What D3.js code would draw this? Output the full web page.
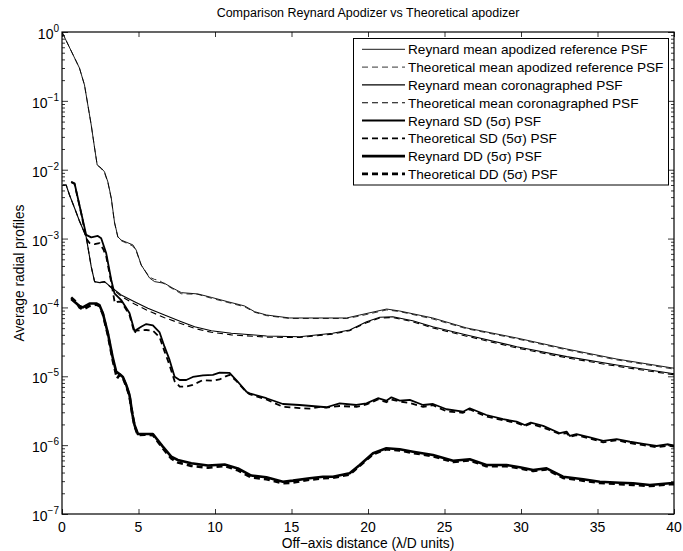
<!DOCTYPE html>
<html><head><meta charset="utf-8">
<script src="https://cdn.jsdelivr.net/npm/d3@7"></script>
<style>
html,body{margin:0;padding:0;background:#fff;}
text{font-family:"Liberation Sans",Arial,Helvetica,sans-serif;fill:#000;}
</style></head>
<body><svg id="c" width="683" height="551"></svg>
<script>
// ---------- data ----------
const title = "Comparison Reynard Apodizer vs Theoretical apodizer";
const xLabel = "Off\u2212axis distance (\u03BB/D units)";
const yLabel = "Average radial profiles";
const xTicks = [0,5,10,15,20,25,30,35,40];
const yExponents = [0,-1,-2,-3,-4,-5,-6,-7];
const legendLabels = [
  "Reynard mean apodized reference PSF",
  "Theoretical mean apodized reference PSF",
  "Reynard mean coronagraphed PSF",
  "Theoretical mean coronagraphed PSF",
  "Reynard SD (5\u03C3) PSF",
  "Theoretical SD (5\u03C3) PSF",
  "Reynard DD (5\u03C3) PSF",
  "Theoretical DD (5\u03C3) PSF"
];

// Reynard mean apodized reference PSF
const reyRefX = [0,1.14,1.47,1.69,1.91,2.13,2.30,2.56,2.78,3.0,3.22,3.43,3.65,3.87,4.63,4.85,5.18,5.72,6.05,6.70,7.25,7.80,8.88,9.76,10.84,11.94,12.59,13.37,14.88,18.61,19.46,21.22,22.07,24.23,26.45,29.72,32.99,36.26,40];
const reyRefY = [1,0.30,0.17,0.087,0.0446,0.0207,0.0117,0.0106,0.0093,0.00664,0.00388,0.00174,0.00106,0.00095,0.00081,0.00068,0.000413,0.000268,0.000237,0.000224,0.000190,0.000164,0.000157,0.000140,0.000121,0.000105,8.67e-5,7.76e-5,7.03e-5,7.03e-5,7.76e-5,9.48e-5,8.87e-5,7.03e-5,5.03e-5,3.60e-5,2.49e-5,1.78e-5,1.31e-5];
// Theoretical mean apodized reference PSF
const theoRefX = [0,1.14,1.47,1.69,1.91,2.13,2.30,2.56,2.78,3.0,3.22,3.43,3.65,3.87,4.63,4.85,5.18,5.72,6.05,6.30,6.70,7.25,7.80,8.88,9.76,10.84,11.94,12.59,13.37,14.88,18.61,19.46,21.22,22.07,24.23,26.45,29.72,32.99,36.26,40];
const theoRefY = [1,0.30,0.17,0.087,0.0446,0.0207,0.0117,0.0104,0.0090,0.0065,0.0038,0.0017,0.00105,0.00093,0.00078,0.00066,0.00041,0.000275,0.000255,0.00025,0.00022,0.000185,0.000158,0.000155,0.000136,0.000118,0.000102,8.5e-5,7.6e-5,6.9e-5,6.9e-5,7.5e-5,9.2e-5,8.7e-5,6.8e-5,4.9e-5,3.5e-5,2.42e-5,1.73e-5,1.27e-5];
// Reynard mean coronagraphed PSF
const reyCorX = [0.05,0.27,0.49,0.82,1.14,1.58,1.91,2.13,2.45,2.78,3.22,3.87,4.74,5.61,6.70,7.80,8.67,9.76,11.07,12.59,13.37,15.53,17.69,18.80,19.91,20.77,21.62,22.92,24.23,26.45,29.72,32.99,36.26,40];
const reyCorY = [6.0e-3,6.0e-3,4.3e-3,2.78e-3,1.8e-3,1.06e-3,3.91e-4,2.37e-4,2.29e-4,2.37e-4,1.96e-4,1.52e-4,1.21e-4,9.72e-5,7.76e-5,6.21e-5,5.25e-5,4.59e-5,4.21e-5,3.98e-5,3.85e-5,3.76e-5,4.21e-5,4.70e-5,6.21e-5,7.19e-5,7.34e-5,6.42e-5,5.25e-5,3.98e-5,2.69e-5,1.93e-5,1.46e-5,1.09e-5];
// Theoretical mean coronagraphed PSF
const theoCorX = [0.05,0.27,0.49,0.82,1.14,1.58,1.91,2.13,2.45,2.78,3.22,3.87,4.74,5.61,6.70,7.80,8.67,9.76,11.07,12.59,13.37,15.53,17.69,18.80,19.91,20.77,21.62,22.92,24.23,26.45,29.72,32.99,36.26,40];
const theoCorY = [6.0e-3,6.0e-3,4.3e-3,2.78e-3,1.8e-3,1.06e-3,3.9e-4,2.37e-4,2.29e-4,2.35e-4,1.93e-4,1.45e-4,1.12e-4,9.0e-5,7.1e-5,5.8e-5,4.95e-5,4.35e-5,4.0e-5,3.8e-5,3.7e-5,3.65e-5,4.1e-5,4.6e-5,6.0e-5,7.0e-5,7.15e-5,6.2e-5,5.05e-5,3.82e-5,2.58e-5,1.85e-5,1.40e-5,1.05e-5];
// Reynard SD (5 sigma) PSF
const reySDX = [0.60,0.82,1.26,1.58,1.91,2.34,2.56,2.89,3.22,3.43,3.87,4.41,4.74,5.20,5.51,5.94,6.38,6.70,7.03,7.36,7.69,8.12,8.55,9.21,9.86,10.30,10.95,11.39,12.05,12.26,13.36,14.44,15.53,17.28,18.15,19.24,19.90,20.65,21.20,21.53,22.07,22.73,23.60,24.25,25.13,26.21,26.65,27.74,28.83,29.71,30.25,30.64,31.45,32.54,32.98,33.19,33.63,34.50,35.37,36.25,37.12,37.99,38.86,39.62,40];
const reySDY = [6.70e-3,6.35e-3,2.33e-3,1.13e-3,1.04e-3,1.09e-3,1.01e-3,6.11e-4,2.50e-4,1.60e-4,1.28e-4,8.30e-5,4.55e-5,5.29e-5,5.74e-5,5.47e-5,4.33e-5,2.69e-5,1.73e-5,9.87e-6,8.83e-6,8.83e-6,9.77e-6,1.03e-5,1.05e-5,1.13e-5,1.12e-5,8.83e-6,5.97e-6,5.66e-6,4.80e-6,3.96e-6,3.83e-6,3.55e-6,4.05e-6,3.83e-6,4.05e-6,4.80e-6,4.43e-6,4.95e-6,4.43e-6,4.53e-6,3.83e-6,3.96e-6,3.32e-6,3.06e-6,3.43e-6,2.74e-6,2.38e-6,2.19e-6,1.96e-6,2.12e-6,1.90e-6,1.49e-6,1.57e-6,1.36e-6,1.45e-6,1.30e-6,1.15e-6,1.22e-6,1.12e-6,1.04e-6,9.72e-7,1.03e-6,9.9e-7];
// Theoretical SD (5 sigma) PSF
const theoSDX = [0.60,0.82,1.26,1.58,1.80,2.13,2.45,2.70,2.89,3.22,3.45,3.60,3.87,4.41,4.74,4.85,5.50,5.94,6.38,6.70,7.03,7.36,7.69,8.12,8.55,9.21,9.86,10.30,10.70,10.95,11.39,12.05,12.26,13.36,14.44,15.53,16.20,16.90,17.28,18.15,19.24,19.90,20.65,21.20,21.53,22.07,22.73,23.60,24.25,25.13,26.21,26.65,27.74,28.83,29.71,30.25,30.64,31.45,32.54,32.98,33.19,33.63,34.50,35.37,36.25,37.12,37.99,38.86,39.62,40];
const theoSDY = [6.6e-3,6.2e-3,2.3e-3,1.0e-3,8.6e-4,8.3e-4,8.6e-4,7.0e-4,5.5e-4,2.3e-4,1.16e-4,1.2e-4,1.22e-4,7.8e-5,4.2e-5,4.6e-5,4.7e-5,4.6e-5,3.7e-5,2.3e-5,1.45e-5,8.5e-6,7.1e-6,7.1e-6,7.5e-6,8.8e-6,8.6e-6,9.0e-6,1.0e-5,1.05e-5,8.6e-6,5.9e-6,5.5e-6,4.6e-6,3.6e-6,3.45e-6,3.4e-6,3.6e-6,3.5e-6,3.7e-6,3.6e-6,3.9e-6,4.6e-6,4.2e-6,4.6e-6,4.3e-6,4.1e-6,3.6e-6,3.8e-6,3.1e-6,2.95e-6,3.3e-6,2.6e-6,2.3e-6,2.1e-6,1.9e-6,2.05e-6,1.8e-6,1.45e-6,1.5e-6,1.32e-6,1.4e-6,1.25e-6,1.1e-6,1.18e-6,1.07e-6,1.0e-6,9.3e-7,9.8e-7,9.5e-7];
// Reynard DD (5 sigma) PSF
const reyDDX = [0.60,0.93,1.14,1.36,1.80,2.24,2.45,2.67,3.00,3.32,3.54,3.76,3.98,4.20,4.41,4.61,4.74,4.96,5.40,5.94,6.59,7.14,7.57,8.45,9.54,10.63,11.50,12.37,13.36,14.44,15.09,16.19,17.06,17.71,18.80,19.46,20.33,21.20,22.07,22.94,24.25,25.56,26.65,27.74,29.05,29.92,30.79,31.67,32.75,34.06,35.15,36.46,37.33,38.42,39.73,40];
const reyDDY = [1.33e-4,1.15e-4,1.05e-4,1.0e-4,1.14e-4,1.14e-4,1.08e-4,8.22e-5,4.21e-5,1.85e-5,1.17e-5,1.08e-5,9.77e-6,7.48e-6,5.35e-6,2.74e-6,1.96e-6,1.45e-6,1.45e-6,1.45e-6,9.50e-7,6.80e-7,6.08e-7,5.45e-7,5.06e-7,5.24e-7,4.58e-7,3.62e-7,3.41e-7,2.94e-7,3.05e-7,3.30e-7,3.48e-7,3.48e-7,3.90e-7,5.15e-7,7.62e-7,9.0e-7,8.71e-7,8.04e-7,7.19e-7,5.94e-7,6.23e-7,5.15e-7,5.15e-7,4.77e-7,4.36e-7,4.61e-7,3.48e-7,3.19e-7,2.94e-7,2.85e-7,2.79e-7,2.64e-7,2.79e-7,2.8e-7];
// Theoretical DD (5 sigma) PSF
const theoDDX = [0.60,0.93,1.14,1.36,1.80,2.24,2.45,2.67,3.00,3.32,3.54,3.60,3.76,3.98,4.20,4.41,4.61,4.74,4.96,5.40,5.94,6.59,7.14,7.57,8.45,9.54,10.63,11.50,12.37,13.36,14.44,15.09,16.19,17.06,17.71,18.80,19.46,20.33,21.20,22.07,22.94,24.25,25.56,26.65,27.74,29.05,29.92,30.79,31.67,32.75,34.06,35.15,36.46,37.33,38.42,39.73,40];
const theoDDY = [1.4e-4,1.2e-4,1.0e-4,9.3e-5,1.05e-4,1.1e-4,1.05e-4,8.0e-5,4.0e-5,1.7e-5,1.05e-5,9.3e-6,1.05e-5,9.5e-6,7.2e-6,5.2e-6,2.7e-6,1.9e-6,1.4e-6,1.42e-6,1.4e-6,9.0e-7,6.4e-7,5.6e-7,5.0e-7,4.7e-7,5.0e-7,4.3e-7,3.4e-7,3.2e-7,2.8e-7,2.85e-7,3.15e-7,3.3e-7,3.35e-7,3.75e-7,5.0e-7,7.4e-7,8.7e-7,8.4e-7,7.7e-7,6.9e-7,5.7e-7,6.0e-7,4.95e-7,4.95e-7,4.6e-7,4.2e-7,4.45e-7,3.35e-7,3.05e-7,2.82e-7,2.72e-7,2.65e-7,2.55e-7,2.7e-7,2.7e-7];

// ---------- chart ----------
const L = 62, R = 674, T = 32, B = 514;
const svg = d3.select("#c");
const x = d3.scaleLinear().domain([0,40]).range([L,R]);
const y = d3.scaleLog().domain([1e-7,1]).range([B,T]);

const series = [
  {xs:reyRefX, ys:reyRefY, w:0.9, dash:null},
  {xs:theoRefX, ys:theoRefY, w:0.8, dash:"6,4"},
  {xs:reyCorX, ys:reyCorY, w:1.1, dash:null},
  {xs:theoCorX, ys:theoCorY, w:1.1, dash:"6,4"},
  {xs:reySDX, ys:reySDY, w:1.8, dash:null},
  {xs:theoSDX, ys:theoSDY, w:1.8, dash:"6,4"},
  {xs:reyDDX, ys:reyDDY, w:2.6, dash:null},
  {xs:theoDDX, ys:theoDDY, w:2.6, dash:"6,4"}
];

svg.append("clipPath").attr("id","clip").append("rect")
  .attr("x",L).attr("y",T).attr("width",R-L).attr("height",B-T);

const line = d3.line().x(d=>x(d[0])).y(d=>y(d[1]));
const g = svg.append("g").attr("clip-path","url(#clip)");
series.forEach(s=>{
  const pts = s.xs.map((v,i)=>[v,s.ys[i]]);
  g.append("path").attr("d",line(pts)).attr("fill","none")
    .attr("stroke","#000").attr("stroke-width",s.w)
    .attr("stroke-dasharray",s.dash).attr("stroke-linejoin","round");
});

// axes ticks (inward)
const minor = [];
for (let e=-7;e<0;e++) for (let k=2;k<=9;k++) minor.push(k*Math.pow(10,e));
const majorY = yExponents.map(e=>Math.pow(10,e));

function styleAxis(sel){
  sel.select(".domain").remove();
  sel.selectAll("line").attr("stroke","#000").attr("stroke-width",0.8);
}
svg.append("g").attr("transform",`translate(0,${B})`)
  .call(d3.axisBottom(x).tickValues(xTicks).tickSize(-5).tickFormat("")).call(styleAxis);
svg.append("g").attr("transform",`translate(0,${T})`)
  .call(d3.axisTop(x).tickValues(xTicks).tickSize(-5).tickFormat("")).call(styleAxis);
svg.append("g").attr("transform",`translate(${L},0)`)
  .call(d3.axisLeft(y).tickValues(majorY).tickSize(-6).tickFormat("")).call(styleAxis);
svg.append("g").attr("transform",`translate(${R},0)`)
  .call(d3.axisRight(y).tickValues(majorY).tickSize(-6).tickFormat("")).call(styleAxis);
svg.append("g").attr("transform",`translate(${L},0)`)
  .call(d3.axisLeft(y).tickValues(minor).tickSize(-3).tickFormat("")).call(styleAxis);
svg.append("g").attr("transform",`translate(${R},0)`)
  .call(d3.axisRight(y).tickValues(minor).tickSize(-3).tickFormat("")).call(styleAxis);

// frame
svg.append("rect").attr("x",L).attr("y",T).attr("width",R-L).attr("height",B-T)
  .attr("fill","none").attr("stroke","#000").attr("stroke-width",1.2);

// x tick labels
svg.append("g").selectAll("text").data(xTicks).join("text")
  .attr("x",d=>x(d)).attr("y",B+18).attr("text-anchor","middle")
  .attr("font-size",14).text(d=>d);

// y tick labels 10^e
const yl = svg.append("g").selectAll("text").data(yExponents).join("text")
  .attr("x",L-3).attr("y",d=>y(Math.pow(10,d))+7).attr("text-anchor","end")
  .attr("font-size",14);
yl.append("tspan").text("10");
yl.append("tspan").attr("dy",-7).attr("font-size",10).text(d=>d===0?"0":"\u2212"+(-d));

// titles
svg.append("text").attr("x",(L+R)/2).attr("y",17).attr("text-anchor","middle")
  .attr("font-size",12.5).text(title);
svg.append("text").attr("x",(L+R)/2).attr("y",548).attr("text-anchor","middle")
  .attr("font-size",13.8).text(xLabel);
svg.append("text").attr("transform",`translate(24,${(T+B)/2}) rotate(-90)`)
  .attr("text-anchor","middle").attr("font-size",13.8).text(yLabel);

// legend
const lg = svg.append("g");
lg.append("rect").attr("x",353.5).attr("y",38.5).attr("width",315).attr("height",146.5)
  .attr("fill","#fff").attr("stroke","#000").attr("stroke-width",1);
legendLabels.forEach((lab,i)=>{
  const cy = 49.3 + i*17.8;
  lg.append("line").attr("x1",362).attr("x2",405).attr("y1",cy).attr("y2",cy)
    .attr("stroke","#000").attr("stroke-width",series[i].w)
    .attr("stroke-dasharray",series[i].dash);
  lg.append("text").attr("x",408).attr("y",cy+5).attr("font-size",13.6).text(lab);
});
</script></body></html>
